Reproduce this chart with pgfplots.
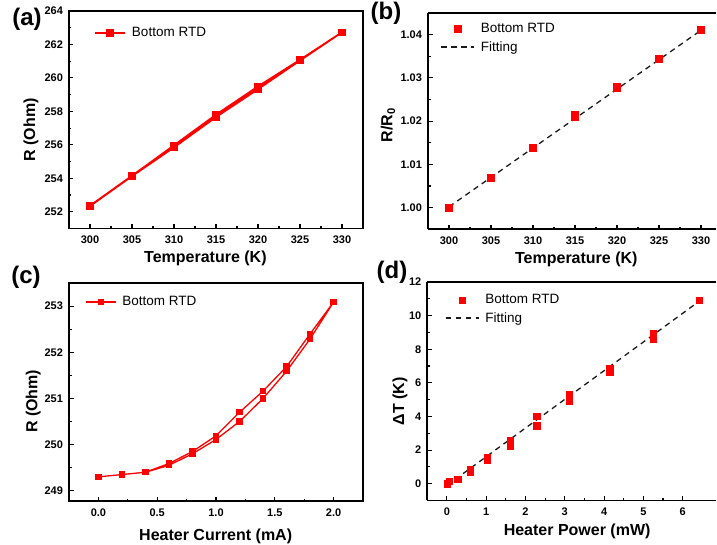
\documentclass[border=0pt]{standalone}
\usepackage{fontspec}
\setmainfont{Liberation Sans}
\usepackage{pgfplots}
\pgfplotsset{compat=1.18}
\definecolor{myred}{RGB}{255,0,0}
\definecolor{fitc}{RGB}{25,25,25}

\pgfplotsset{
  panel/.style={
    scale only axis,
    axis line style={line width=1.7pt, black},
    tick pos=left, tick align=inside,
    major tick length=4.5pt, minor tick length=2.5pt,
    tick style={line width=1.1pt, black},
    minor tick num=1,
    /pgf/number format/assume math mode=true,
    tick label style={font=\fontsize{11}{13}\selectfont\bfseries},
    xticklabel style={yshift=-4pt},
    yticklabel style={xshift=-2.5pt},
    label style={font=\fontsize{16}{19}\selectfont\bfseries},
    legend cell align=left,
    legend style={draw=none, fill=none, inner sep=0pt,
      font=\fontsize{13.5}{16}\selectfont,
      nodes={inner sep=0pt}, column sep=6pt, row sep=7pt},
  },
  linelegend/.style={legend image code/.code={\draw[mark repeat=2, mark phase=2] plot coordinates {(0pt,0pt)(15pt,0pt)(30pt,0pt)};}},
  marklegend/.style={legend image code/.code={\path[draw=none, fill=none] (0pt,0pt) -- (33pt,0pt); \draw plot coordinates {(16.5pt,0pt)};}},
  fitlegend/.style={legend image code/.code={\draw (0pt,0pt) -- (33pt,0pt);}},
}

\begin{document}
\begin{tikzpicture}
\useasboundingbox (0pt,0pt) rectangle (717pt,545pt);

% (a)
\begin{axis}[panel, at={(69pt,316.5pt)}, anchor=south west, width=294pt, height=217.5pt,
  xmin=297.5, xmax=332.5, ymin=251, ymax=264,
  xtick={300,305,...,330}, ytick={252,254,...,264},
  xlabel={Temperature (K)}, ylabel={R (Ohm)},
  xlabel style={at={(axis description cs:0.464,-0.136)}, anchor=center},
  ylabel style={at={(axis description cs:-0.129,0.453)}, anchor=center},
  legend style={at={(axis description cs:0.085,0.899)}, anchor=west},
]
\addplot[myred, line width=1.8pt, mark=square*, mark size=2.8pt, mark options={solid, fill=myred}, linelegend] coordinates {
(300,252.34) (305,254.13) (310,255.85) (315,257.66) (320,259.33) (325,261.04) (330,262.73)
(325,261.08) (320,259.49) (315,257.80) (310,255.97) (305,254.15) (300,252.36)};
\addlegendentry{Bottom RTD}
\end{axis}

% (b)
\begin{axis}[panel, at={(428pt,315.7pt)}, anchor=south west, width=288pt, height=216.3pt,
  axis x line*=bottom, axis y line*=left,
  xmin=297.5, xmax=331.79, ymin=0.995, ymax=1.045,
  xtick={300,305,...,330}, ytick={1.00,1.01,...,1.04},
  yticklabel style={/pgf/number format/.cd, fixed, fixed zerofill, precision=2},
  xlabel={Temperature (K)}, ylabel={R/R\textsubscript{0}},
  xlabel style={at={(axis description cs:0.515,-0.14)}, anchor=center},
  ylabel style={at={(axis description cs:-0.139,0.482)}, anchor=center},
  legend style={at={(axis description cs:0.043,0.884)}, anchor=west},
]
\draw[black, line width=1.7pt] (rel axis cs:0,1) -- (rel axis cs:1,1);
\addplot[only marks, mark=square*, mark size=3.4pt, mark options={fill=myred, draw=myred}, marklegend] coordinates {
(300,1.0000) (305,1.0070) (310,1.0139) (315,1.0214) (315,1.0210) (320,1.0281) (320,1.0276) (325,1.0345) (330,1.0412)};
\addlegendentry{Bottom RTD}
\addplot[fitc, line width=1.3pt, dash pattern=on 5.5pt off 4.5pt, fitlegend] coordinates {(300,1.0002) (330,1.0410)};
\addlegendentry{Fitting}
\end{axis}

% (c)
\begin{axis}[panel, at={(69pt,43.7pt)}, anchor=south west, width=294pt, height=218.6pt,
  xmin=-0.25, xmax=2.25, ymin=248.77, ymax=253.51,
  xtick={0,0.5,...,2}, ytick={249,250,...,253},
  xticklabel style={/pgf/number format/.cd, fixed, fixed zerofill, precision=1},
  xlabel={Heater Current (mA)}, ylabel={R (Ohm)},
  xlabel style={at={(axis description cs:0.499,-0.16)}, anchor=center},
  ylabel style={at={(axis description cs:-0.122,0.457)}, anchor=center},
  legend style={at={(axis description cs:0.054,0.912)}, anchor=west},
]
\addplot[myred, line width=1.3pt, mark=square*, mark size=2.5pt, mark options={solid, fill=myred}, linelegend] coordinates {
(0,249.30) (0.2,249.35) (0.4,249.40) (0.6,249.55) (0.8,249.80) (1.0,250.11) (1.2,250.50) (1.4,251.00) (1.6,251.59) (1.8,252.29) (2.0,253.09)
(1.8,252.40) (1.6,251.69) (1.4,251.16) (1.2,250.70) (1.0,250.19) (0.8,249.85) (0.6,249.59) (0.4,249.40) (0.2,249.35) (0,249.30)};
\addlegendentry{Bottom RTD}
\end{axis}

% (d)
\begin{axis}[panel, at={(427.3pt,44.5pt)}, anchor=south west, width=288.7pt, height=218.5pt,
  axis x line*=bottom, axis y line*=left,
  xmin=-0.5, xmax=6.85, ymin=-1, ymax=12,
  xtick={0,1,...,6}, ytick={0,2,...,12},
  xlabel={Heater Power (mW)}, ylabel={ΔT (K)},
  xlabel style={at={(axis description cs:0.519,-0.142)}, anchor=center},
  ylabel style={at={(axis description cs:-0.095,0.453)}, anchor=center},
  legend style={at={(axis description cs:0.061,0.876)}, anchor=west},
]
\draw[black, line width=1.7pt] (rel axis cs:0,1) -- (rel axis cs:1,1);
\addplot[only marks, mark=square*, mark size=3.2pt, mark options={fill=myred, draw=myred}, marklegend] coordinates {
(0,0) (0.06,0.14) (0.27,0.28) (0.59,0.72) (0.59,0.86) (1.03,1.43) (1.03,1.57) (1.61,2.26) (1.61,2.56)
(2.29,3.45) (2.29,4.03) (3.12,4.90) (3.12,5.30) (4.14,6.65) (4.14,6.85) (5.25,8.63) (5.25,8.93) (6.42,10.92)};
\addlegendentry{Bottom RTD}
\addplot[fitc, line width=1.3pt, dash pattern=on 5.5pt off 4.5pt, fitlegend] coordinates {(0,-0.1) (6.42,10.85)};
\addlegendentry{Fitting}
\end{axis}

\node[font=\fontsize{24}{28}\selectfont\bfseries, inner sep=0pt] at (27pt,525.6pt) {(a)};
\node[font=\fontsize{24}{28}\selectfont\bfseries, inner sep=0pt] at (386pt,531.5pt) {(b)};
\node[font=\fontsize{24}{28}\selectfont\bfseries, inner sep=0pt] at (26pt,268pt) {(c)};
\node[font=\fontsize{24}{28}\selectfont\bfseries, inner sep=0pt] at (392pt,273pt) {(d)};
\end{tikzpicture}
\end{document}
